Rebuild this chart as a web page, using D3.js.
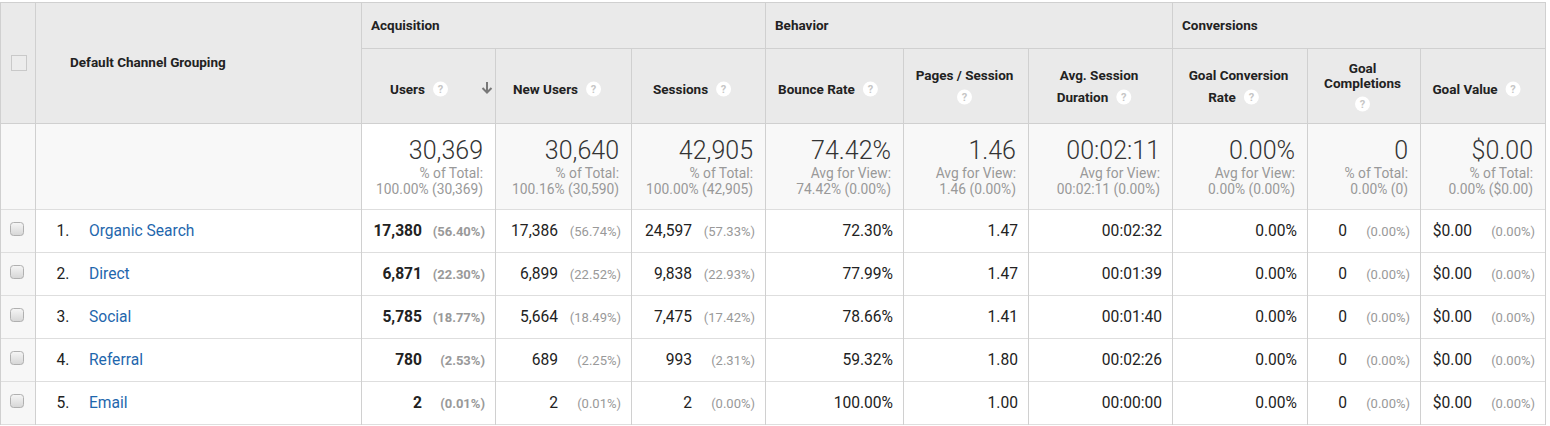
<!DOCTYPE html>
<html>
<head>
<meta charset="utf-8">
<script src="https://cdn.jsdelivr.net/npm/d3@7"></script>
<style>
  body { margin: 0; background: #fff; }
  svg { display: block; font-family: Roboto, "Noto Sans", sans-serif; }
</style>
</head>
<body>
<svg id="report" width="1550" height="426"></svg>
<script>
var channels = ["Organic Search", "Direct", "Social", "Referral", "Email"];
var users = [17380, 6871, 5785, 780, 2];
var usersPct = [56.40, 22.30, 18.77, 2.53, 0.01];
var newUsers = [17386, 6899, 5664, 689, 2];
var newUsersPct = [56.74, 22.52, 18.49, 2.25, 0.01];
var sessions = [24597, 9838, 7475, 993, 2];
var sessionsPct = [57.33, 22.93, 17.42, 2.31, 0.00];
var bounceRate = [72.30, 77.99, 78.66, 59.32, 100.00];
var pagesPerSession = [1.47, 1.47, 1.41, 1.80, 1.00];
var avgDuration = [152, 99, 100, 146, 0];   // seconds
var goalConvRate = [0.00, 0.00, 0.00, 0.00, 0.00];
var goalCompletions = [0, 0, 0, 0, 0];
var goalCompletionsPct = [0.00, 0.00, 0.00, 0.00, 0.00];
var goalValue = [0.00, 0.00, 0.00, 0.00, 0.00];
var goalValuePct = [0.00, 0.00, 0.00, 0.00, 0.00];

var groupNames = ["Acquisition", "Behavior", "Conversions"];
var headerLabels = [["Users"], ["New Users"], ["Sessions"], ["Bounce Rate"],
  ["Pages / Session", ""], ["Avg. Session", "Duration"], ["Goal Conversion", "Rate"],
  ["Goal", "Completions", ""], ["Goal Value"]];
var totalValues = [30369, 30640, 42905, 74.42, 1.46, 131, 0.00, 0, 0.00];
var totalCaptions = ["% of Total:", "% of Total:", "% of Total:", "Avg for View:", "Avg for View:",
  "Avg for View:", "Avg for View:", "% of Total:", "% of Total:"];
var totalNotes = ["100.00% (30,369)", "100.16% (30,590)", "100.00% (42,905)", "74.42% (0.00%)",
  "1.46 (0.00%)", "00:02:11 (0.00%)", "0.00% (0.00%)", "0.00% (0)", "0.00% ($0.00)"];

// ---- formatters ----
var fCount = d3.format(",");
var fDec = d3.format(".2f");
var fPct = function(v) { return fDec(v) + "%"; };
var fMoney = d3.format("$.2f");
var pad2 = d3.format("02d");
var fDur = function(s) { return pad2(Math.floor(s / 3600)) + ":" + pad2(Math.floor(s / 60) % 60) + ":" + pad2(s % 60); };

var metrics = [
  { key: "users", values: users, pct: usersPct, fmt: fCount, bold: true, group: 0 },
  { key: "newUsers", values: newUsers, pct: newUsersPct, fmt: fCount, group: 0 },
  { key: "sessions", values: sessions, pct: sessionsPct, fmt: fCount, group: 0 },
  { key: "bounce", values: bounceRate, fmt: fPct, group: 1 },
  { key: "pages", values: pagesPerSession, fmt: fDec, group: 1 },
  { key: "duration", values: avgDuration, fmt: fDur, group: 1 },
  { key: "convRate", values: goalConvRate, fmt: fPct, group: 2 },
  { key: "completions", values: goalCompletions, pct: goalCompletionsPct, fmt: fCount, group: 2 },
  { key: "goalValue", values: goalValue, pct: goalValuePct, fmt: fMoney, group: 2 }
];

// ---- layout ----
var colKeys = ["check", "channel"].concat(metrics.map(function(m) { return m.key; }));
var colWidths = [35, 326, 134, 136, 134, 138, 125, 144, 135, 113, 125];
var left = 1;
var edges = [left];
colWidths.forEach(function(w, i) { edges.push(edges[i] + w); });
var x0 = d3.scaleOrdinal().domain(colKeys).range(edges.slice(0, -1));
var x1 = d3.scaleOrdinal().domain(colKeys).range(edges.slice(1));
var tableRight = edges[edges.length - 1];

// note: "top" is reserved on window, so yTop
var yTop = 2, groupBottom = 48, headBottom = 123, sumBottom = 209, tableBottom = 424;
var y = d3.scaleBand().domain(d3.range(channels.length)).range([sumBottom, tableBottom]);

var C = {
  head: "#eaeaea", sum: "#f8f8f8", sumSorted: "#ffffff", checkCol: "#f7f7f7",
  grid: "#d0d0d0", rowLine: "#dedede", text: "#222", big: "#333", sub: "#999",
  link: "#1f67ad", pctText: "#999"
};

var svg = d3.select("#report");

var defs = svg.append("defs");
var grad = defs.append("linearGradient").attr("id", "cb").attr("x1", 0).attr("y1", 0).attr("x2", 0).attr("y2", 1);
grad.append("stop").attr("offset", "0%").attr("stop-color", "#f6f6f6");
grad.append("stop").attr("offset", "100%").attr("stop-color", "#d6d6d6");

// backgrounds
svg.append("rect").attr("x", left).attr("y", yTop).attr("width", tableRight - left).attr("height", headBottom - yTop).attr("fill", C.head);
svg.selectAll("rect.sumbg").data(colKeys).enter().append("rect")
  .attr("class", "sumbg")
  .attr("x", function(k) { return x0(k); }).attr("y", headBottom)
  .attr("width", function(k) { return x1(k) - x0(k); }).attr("height", sumBottom - headBottom)
  .attr("fill", function(k) { return k === "users" ? C.sumSorted : C.sum; });
svg.append("rect").attr("x", x0("check")).attr("y", sumBottom).attr("width", x1("check") - x0("check"))
  .attr("height", tableBottom - sumBottom).attr("fill", C.checkCol);

// horizontal lines
function hline(xa, xb, yy, color) {
  svg.append("line").attr("x1", xa).attr("x2", xb).attr("y1", yy + 0.5).attr("y2", yy + 0.5)
    .attr("stroke", color).attr("stroke-width", 1);
}
hline(left, tableRight, yTop, C.grid);
hline(x0("users"), tableRight, groupBottom, C.grid);
hline(left, tableRight, headBottom, C.grid);
hline(left, tableRight, sumBottom, C.rowLine);
y.domain().forEach(function(i) { hline(left, tableRight, y(i) + y.bandwidth(), C.rowLine); });

// vertical lines: full height at group edges, from the sub-header row inside a group
function vline(xx, ya, yb) {
  svg.append("line").attr("x1", xx + 0.5).attr("x2", xx + 0.5).attr("y1", ya).attr("y2", yb)
    .attr("stroke", C.grid).attr("stroke-width", 1);
}
vline(left - 1, yTop, tableBottom + 1);
colKeys.forEach(function(k, i) {
  var m = metrics[i - 2], next = metrics[i - 1];
  var full = !m || !next || next.group !== m.group;
  vline(x1(k) - 1, full ? yTop : groupBottom, tableBottom + 1);
});

// group headers
groupNames.forEach(function(g, gi) {
  var first = metrics.filter(function(m) { return m.group === gi; })[0];
  svg.append("text").attr("x", x0(first.key) + 9).attr("y", 30)
    .attr("font-size", 13.5).attr("font-weight", "bold").attr("fill", C.text).text(g);
});

// header checkbox and channel title
svg.append("rect").attr("x", 11.5).attr("y", 55.5).attr("width", 15).attr("height", 15)
  .attr("fill", "#ececec").attr("stroke", "#c9c9c9");
svg.append("text").attr("x", 70).attr("y", 67).attr("font-size", 13.5).attr("font-weight", "bold")
  .attr("fill", C.text).text("Default Channel Grouping");

// help icon
function helpIcon(cx, cy) {
  var g = svg.append("g").attr("transform", "translate(" + cx + "," + cy + ")");
  g.append("circle").attr("r", 7.5).attr("fill", "#ffffff");
  g.append("text").attr("y", 4).attr("text-anchor", "middle").attr("font-size", 11)
    .attr("font-weight", "bold").attr("fill", "#c6c6c6").text("?");
}

var baselines = { 1: [94], 2: [80, 102], 3: [73, 88, 109] };
metrics.forEach(function(m, i) {
  var lines = headerLabels[i];
  var bl = baselines[lines.length];
  var cx = (x0(m.key) + x1(m.key)) / 2;
  if (m.key === "users") cx -= 3;
  lines.forEach(function(line, li) {
    var last = li === lines.length - 1;
    var t = svg.append("text").attr("y", bl[li]).attr("font-size", 13.5).attr("font-weight", "bold")
      .attr("fill", C.text).text(line);
    var tw = line ? t.node().getComputedTextLength() : 0;
    var w = tw + (last ? (line ? 8 : 0) + 15 : 0);
    var shift = last && line ? -7 : -2;
    var sx = cx + shift - w / 2;
    t.attr("x", sx);
    if (last) helpIcon(sx + w - 7.5, bl[li] - 5);
  });
});

// sort arrow on Users
var ax = x1("users") - 9;
svg.append("path").attr("d", "M" + ax + ",82V92.5M" + (ax - 4.5) + ",88L" + ax + ",92.5L" + (ax + 4.5) + ",88")
  .attr("fill", "none").attr("stroke", "#787878").attr("stroke-width", 2);

// summary row
metrics.forEach(function(m, i) {
  var rx = x1(m.key) - 13;
  svg.append("text").attr("x", rx).attr("y", 158.5).attr("text-anchor", "end")
    .attr("font-size", 25).attr("font-weight", 300).attr("fill", C.big).text(m.fmt(totalValues[i]));
  svg.append("text").attr("x", rx).attr("y", 178).attr("text-anchor", "end")
    .attr("font-size", 13.8).attr("fill", C.sub).text(totalCaptions[i]);
  svg.append("text").attr("x", rx).attr("y", 194).attr("text-anchor", "end")
    .attr("font-size", 13.8).attr("fill", C.sub).text(totalNotes[i]);
});

// data rows
var rows = svg.selectAll("g.row").data(channels).enter().append("g").attr("class", "row")
  .attr("transform", function(d, i) { return "translate(0," + (y(i) + y.bandwidth() / 2) + ")"; });

rows.append("rect").attr("x", 10.5).attr("y", -8).attr("width", 13).attr("height", 13).attr("rx", 3)
  .attr("fill", "url(#cb)").attr("stroke", "#b0b0b0");
rows.append("text").attr("x", 69.5).attr("y", 5.5).attr("text-anchor", "end").attr("font-size", 15.6)
  .attr("fill", C.text).text(function(d, i) { return (i + 1) + "."; });
rows.append("text").attr("x", 89).attr("y", 5.5).attr("font-size", 15.6).attr("fill", C.link)
  .text(function(d) { return d; });

metrics.forEach(function(m) {
  var hasPct = !!m.pct;
  rows.append("text")
    .attr("x", x1(m.key) - (hasPct ? 74 : 11)).attr("y", 5.5).attr("text-anchor", "end")
    .attr("font-size", 15.6).attr("font-weight", m.bold ? "bold" : "normal").attr("fill", C.text)
    .text(function(d, i) { return m.fmt(m.values[i]); });
  if (hasPct) {
    rows.append("text")
      .attr("x", x1(m.key) - 11).attr("y", 5).attr("text-anchor", "end")
      .attr("font-size", 13).attr("font-weight", m.bold ? "bold" : "normal").attr("fill", C.pctText)
      .text(function(d, i) { return "(" + fPct(m.pct[i]) + ")"; });
  }
});
</script>
</body>
</html>
